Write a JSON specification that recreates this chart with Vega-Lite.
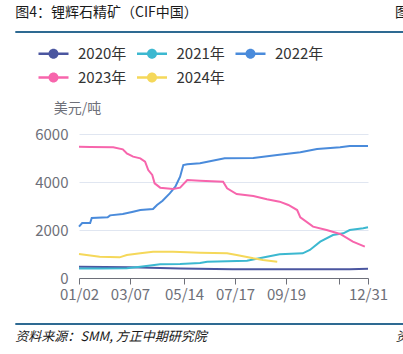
{
  "$schema": "https://vega.github.io/schema/vega-lite/v6.json",
  "background": "white",
  "width": 289,
  "height": 144,
  "autosize": {"type": "none"},
  "padding": {"left": 79, "top": 134, "right": 35, "bottom": 76},
  "config": {"font": "Noto Sans CJK SC", "view": {"stroke": null}},
  "layer": [
    {
      "data": {
        "values": [
          {"date": "2021/01/02", "series": "2020年", "price": 470},
          {"date": "2021/03/07", "series": "2020年", "price": 450},
          {"date": "2021/05/09", "series": "2020年", "price": 400},
          {"date": "2021/07/14", "series": "2020年", "price": 365},
          {"date": "2021/10/07", "series": "2020年", "price": 360},
          {"date": "2021/12/08", "series": "2020年", "price": 365},
          {"date": "2021/12/31", "series": "2020年", "price": 390},

          {"date": "2021/01/02", "series": "2021年", "price": 400},
          {"date": "2021/01/28", "series": "2021年", "price": 400},
          {"date": "2021/03/03", "series": "2021年", "price": 405},
          {"date": "2021/03/20", "series": "2021年", "price": 472},
          {"date": "2021/04/14", "series": "2021年", "price": 569},
          {"date": "2021/05/09", "series": "2021年", "price": 583},
          {"date": "2021/06/03", "series": "2021年", "price": 625},
          {"date": "2021/06/12", "series": "2021年", "price": 681},
          {"date": "2021/08/01", "series": "2021年", "price": 722},
          {"date": "2021/08/26", "series": "2021年", "price": 889},
          {"date": "2021/09/11", "series": "2021年", "price": 986},
          {"date": "2021/10/10", "series": "2021年", "price": 1028},
          {"date": "2021/10/19", "series": "2021年", "price": 1167},
          {"date": "2021/11/01", "series": "2021年", "price": 1514},
          {"date": "2021/11/17", "series": "2021年", "price": 1792},
          {"date": "2021/11/30", "series": "2021年", "price": 1861},
          {"date": "2021/12/08", "series": "2021年", "price": 2000},
          {"date": "2021/12/25", "series": "2021年", "price": 2069},
          {"date": "2021/12/31", "series": "2021年", "price": 2111},

          {"date": "2021/01/02", "series": "2022年", "price": 2140},
          {"date": "2021/01/06", "series": "2022年", "price": 2290},
          {"date": "2021/01/16", "series": "2022年", "price": 2290},
          {"date": "2021/01/18", "series": "2022年", "price": 2500},
          {"date": "2021/02/07", "series": "2022年", "price": 2530},
          {"date": "2021/02/10", "series": "2022年", "price": 2610},
          {"date": "2021/02/26", "series": "2022年", "price": 2667},
          {"date": "2021/03/11", "series": "2022年", "price": 2764},
          {"date": "2021/03/20", "series": "2022年", "price": 2833},
          {"date": "2021/04/05", "series": "2022年", "price": 2875},
          {"date": "2021/04/10", "series": "2022年", "price": 3042},
          {"date": "2021/04/17", "series": "2022年", "price": 3222},
          {"date": "2021/04/26", "series": "2022年", "price": 3528},
          {"date": "2021/05/03", "series": "2022年", "price": 3806},
          {"date": "2021/05/09", "series": "2022年", "price": 4222},
          {"date": "2021/05/13", "series": "2022年", "price": 4708},
          {"date": "2021/05/18", "series": "2022年", "price": 4736},
          {"date": "2021/06/03", "series": "2022年", "price": 4778},
          {"date": "2021/07/04", "series": "2022年", "price": 4986},
          {"date": "2021/08/09", "series": "2022年", "price": 5000},
          {"date": "2021/09/08", "series": "2022年", "price": 5125},
          {"date": "2021/10/07", "series": "2022年", "price": 5236},
          {"date": "2021/10/28", "series": "2022年", "price": 5375},
          {"date": "2021/11/26", "series": "2022年", "price": 5445},
          {"date": "2021/12/08", "series": "2022年", "price": 5500},
          {"date": "2021/12/31", "series": "2022年", "price": 5500},

          {"date": "2021/01/02", "series": "2023年", "price": 5472},
          {"date": "2021/01/16", "series": "2023年", "price": 5460},
          {"date": "2021/02/14", "series": "2023年", "price": 5450},
          {"date": "2021/02/26", "series": "2023年", "price": 5360},
          {"date": "2021/03/01", "series": "2023年", "price": 5264},
          {"date": "2021/03/03", "series": "2023年", "price": 5194},
          {"date": "2021/03/11", "series": "2023年", "price": 5056},
          {"date": "2021/03/20", "series": "2023年", "price": 4986},
          {"date": "2021/03/26", "series": "2023年", "price": 4847},
          {"date": "2021/03/30", "series": "2023年", "price": 4500},
          {"date": "2021/04/04", "series": "2023年", "price": 4292},
          {"date": "2021/04/07", "series": "2023年", "price": 3944},
          {"date": "2021/04/14", "series": "2023年", "price": 3764},
          {"date": "2021/04/30", "series": "2023年", "price": 3708},
          {"date": "2021/05/09", "series": "2023年", "price": 3764},
          {"date": "2021/05/18", "series": "2023年", "price": 4083},
          {"date": "2021/06/03", "series": "2023年", "price": 4056},
          {"date": "2021/07/02", "series": "2023年", "price": 4014},
          {"date": "2021/07/07", "series": "2023年", "price": 3736},
          {"date": "2021/07/19", "series": "2023年", "price": 3500},
          {"date": "2021/08/09", "series": "2023年", "price": 3417},
          {"date": "2021/08/26", "series": "2023年", "price": 3278},
          {"date": "2021/09/11", "series": "2023年", "price": 3181},
          {"date": "2021/09/22", "series": "2023年", "price": 3042},
          {"date": "2021/10/03", "series": "2023年", "price": 2833},
          {"date": "2021/10/07", "series": "2023年", "price": 2528},
          {"date": "2021/10/23", "series": "2023年", "price": 2139},
          {"date": "2021/11/09", "series": "2023年", "price": 2000},
          {"date": "2021/11/26", "series": "2023年", "price": 1833},
          {"date": "2021/12/12", "series": "2023年", "price": 1514},
          {"date": "2021/12/27", "series": "2023年", "price": 1306},

          {"date": "2021/01/02", "series": "2024年", "price": 1000},
          {"date": "2021/01/28", "series": "2024年", "price": 889},
          {"date": "2021/02/22", "series": "2024年", "price": 861},
          {"date": "2021/03/03", "series": "2024年", "price": 958},
          {"date": "2021/03/20", "series": "2024年", "price": 1028},
          {"date": "2021/04/05", "series": "2024年", "price": 1097},
          {"date": "2021/04/30", "series": "2024年", "price": 1097},
          {"date": "2021/05/18", "series": "2024年", "price": 1070},
          {"date": "2021/06/03", "series": "2024年", "price": 1056},
          {"date": "2021/07/07", "series": "2024年", "price": 1028},
          {"date": "2021/07/19", "series": "2024年", "price": 958},
          {"date": "2021/08/09", "series": "2024年", "price": 819},
          {"date": "2021/08/21", "series": "2024年", "price": 750},
          {"date": "2021/09/08", "series": "2024年", "price": 681}
        ],
        "format": {"parse": {"date": "date"}}
      },
      "mark": {"type": "line", "strokeWidth": 2},
      "encoding": {
        "x": {
          "field": "date",
          "type": "temporal",
          "scale": {"domain": [{"year": 2021, "month": 1, "date": 2}, {"year": 2021, "month": 12, "date": 31}], "nice": false},
          "axis": {
            "title": null,
            "values": [
              {"year": 2021, "month": 1, "date": 2},
              {"year": 2021, "month": 3, "date": 7},
              {"year": 2021, "month": 5, "date": 14},
              {"year": 2021, "month": 7, "date": 17},
              {"year": 2021, "month": 9, "date": 19},
              {"year": 2021, "month": 11, "date": 24},
              {"year": 2021, "month": 12, "date": 31}
            ],
            "labelExpr": "month(datum.value) == 10 ? '' : timeFormat(datum.value, '%m/%d')",
            "grid": false,
            "domainColor": "#6E7079",
            "domainWidth": 1,
            "tickColor": "#6E7079",
            "tickSize": 6,
            "labelColor": "#6E7079",
            "labelFontSize": 15,
            "labelPadding": 3,
            "labelOverlap": false,
            "labelFlush": false,
            "labelFont": "Noto Sans CJK SC"
          }
        },
        "y": {
          "field": "price",
          "type": "quantitative",
          "scale": {"domain": [0, 6000], "nice": false},
          "axis": {
            "title": "美元/吨",
            "titleAngle": 0,
            "titleX": -2,
            "titleY": -26,
            "titleAlign": "center",
            "titleBaseline": "middle",
            "titleFontSize": 14,
            "titleFontWeight": "normal",
            "titleColor": "#6E7079",
            "titleFont": "Noto Sans CJK SC",
            "values": [0, 1000, 2000, 3000, 4000, 5000, 6000],
            "format": "d",
            "domain": false,
            "ticks": false,
            "labelPadding": 11,
            "labelOverlap": false,
            "labelFlush": false,
            "labelColor": "#6E7079",
            "labelFontSize": 15,
            "labelFont": "Noto Sans CJK SC",
            "gridColor": "#E0E6F1",
            "gridWidth": 1
          }
        },
        "color": {
          "field": "series",
          "type": "nominal",
          "scale": {"domain": ["2020年", "2021年", "2022年", "2023年", "2024年"], "range": ["#4B56A0", "#3CB8D0", "#4A8BDB", "#F765AC", "#F5D85A"]},
          "legend": {
            "title": null,
            "orient": "none",
            "legendX": -33,
            "legendY": -88,
            "direction": "horizontal",
            "columns": 3,
            "columnPadding": 9.5,
            "rowPadding": 8,
            "padding": 0,
            "symbolType": "M-3,-0.25 L3,-0.25 L3,0.25 L-3,0.25 Z M1,0 A1,1 0 1,1 -1,0 A1,1 0 1,1 1,0 Z",
            "symbolSize": 100,
            "symbolStrokeWidth": 0,
            "labelOffset": 17,
            "labelFontSize": 15,
            "labelColor": "#333333",
            "labelFont": "Noto Sans CJK SC",
            "encode": {
              "symbols": {"update": {"fill": {"scale": "color", "field": "value"}, "stroke": {"value": "transparent"}, "opacity": {"value": 1}}}
            }
          }
        }
      }
    },
    {
      "data": {
        "values": [
          {"start": "2020/10/14", "end": "2022/02/13", "lo": 10208, "hi": 10292},
          {"start": "2020/10/14", "end": "2022/02/13", "lo": -1959, "hi": -1875}
        ],
        "format": {"parse": {"start": "date", "end": "date"}}
      },
      "mark": {"type": "rect", "color": "#2E6A92", "clip": false},
      "encoding": {
        "x": {"field": "start", "type": "temporal", "title": null, "scale": {"domain": [{"year": 2021, "month": 1, "date": 2}, {"year": 2021, "month": 12, "date": 31}], "nice": false}},
        "x2": {"field": "end"},
        "y": {"field": "lo", "type": "quantitative", "title": "美元/吨", "scale": {"domain": [0, 6000], "nice": false}},
        "y2": {"field": "hi"}
      }
    },
    {
      "data": {
        "values": [
          {"at": "2020/10/14", "level": 11042, "note": "图4：锂辉石精矿（CIF中国）"},
          {"at": "2022/02/03", "level": 11042, "note": "图"}
        ],
        "format": {"parse": {"at": "date"}}
      },
      "mark": {"type": "text", "align": "left", "baseline": "middle", "fontSize": 14, "color": "#1a1a1a", "font": "Noto Sans CJK SC", "clip": false},
      "encoding": {
        "x": {"field": "at", "type": "temporal", "title": null, "scale": {"domain": [{"year": 2021, "month": 1, "date": 2}, {"year": 2021, "month": 12, "date": 31}], "nice": false}},
        "y": {"field": "level", "type": "quantitative", "title": "美元/吨", "scale": {"domain": [0, 6000], "nice": false}},
        "text": {"field": "note"}
      }
    },
    {
      "data": {
        "values": [
          {"at": "2020/10/14", "level": -2458, "note": "资料来源：SMM, 方正中期研究院"},
          {"at": "2022/02/04", "level": -2458, "note": "资"}
        ],
        "format": {"parse": {"at": "date"}}
      },
      "mark": {"type": "text", "align": "left", "baseline": "middle", "fontSize": 13, "fontStyle": "italic", "color": "#1a1a1a", "font": "Noto Sans CJK SC", "clip": false},
      "encoding": {
        "x": {"field": "at", "type": "temporal", "title": null, "scale": {"domain": [{"year": 2021, "month": 1, "date": 2}, {"year": 2021, "month": 12, "date": 31}], "nice": false}},
        "y": {"field": "level", "type": "quantitative", "title": "美元/吨", "scale": {"domain": [0, 6000], "nice": false}},
        "text": {"field": "note"}
      }
    }
  ]
}
